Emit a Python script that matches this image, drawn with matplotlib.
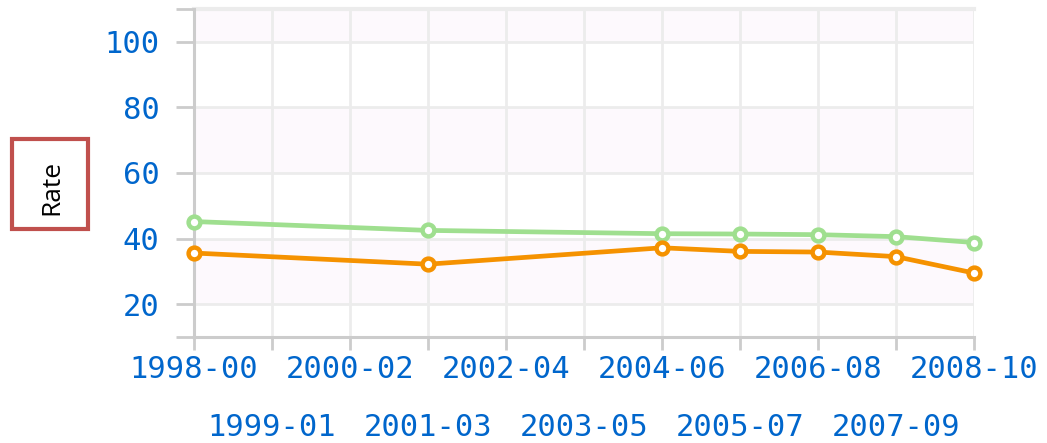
import matplotlib
matplotlib.use("Agg")
import matplotlib.pyplot as plt
from matplotlib.patches import Rectangle
import numpy as np

# categorias do eixo x (anos escolares)
periodos = ["1998-00", "1999-01", "2000-02", "2001-03", "2002-04", "2003-05",
            "2004-06", "2005-07", "2006-08", "2007-09", "2008-10"]

# periodos com dados
periodos_dados = ["1998-00", "2001-03", "2004-06", "2005-07", "2006-08", "2007-09", "2008-10"]
serie_verde = [45.2, 42.5, 41.5, 41.4, 41.2, 40.6, 38.8]
serie_laranja = [35.6, 32.2, 37.2, 36.1, 35.9, 34.5, 29.5]

y_ticks = [20, 40, 60, 80, 100]
y_min, y_max = 10, 110

azul = "#0066cc"
cinza_eixo = "#cccccc"
cinza_grade = "#ececec"

fig = plt.figure(figsize=(10.47, 4.43), dpi=100)
ax = fig.add_axes([194 / 1047, 1 - 337 / 443, 780 / 1047, 328 / 443])

ax.set_xlim(0, len(periodos) - 1)
ax.set_ylim(y_min, y_max)

# faixas alternadas no fundo
for inicio in range(20, 120, 40):
    ax.axhspan(inicio, min(inicio + 20, y_max), color="#fdf9fd", zorder=0, lw=0)

# grade
ax.set_xticks(range(len(periodos)))
ax.set_yticks(y_ticks)
ax.set_yticks([y_min, y_max], minor=True)
ax.grid(True, color=cinza_grade, lw=2, zorder=1)
ax.axhline(y_max, color=cinza_grade, lw=3, zorder=1, clip_on=False)

# linhas
x_dados = [periodos.index(p) for p in periodos_dados]
ax.plot(x_dados, serie_verde, color="#9fdf8f", lw=3.4, marker="o", ms=8.5,
        mfc="white", mew=3.2, zorder=3, clip_on=False)
ax.plot(x_dados, serie_laranja, color="#f59200", lw=3.4, marker="o", ms=8.5,
        mfc="white", mew=3.2, zorder=4, clip_on=False)

# eixos
for lado in ["top", "right"]:
    ax.spines[lado].set_visible(False)
ax.spines["left"].set_color(cinza_eixo)
ax.spines["left"].set_linewidth(2.2)
ax.spines["bottom"].set_color(cinza_eixo)
ax.spines["bottom"].set_linewidth(2.2)

fonte = dict(family="DejaVu Sans Mono", size=22)
ax.set_xticklabels(periodos, color=azul, **fonte)
ax.set_yticklabels([str(v) for v in y_ticks], color=azul, **fonte)
ax.tick_params(axis="x", which="major", length=9, width=2, color=cinza_eixo, pad=4)
ax.tick_params(axis="y", which="both", length=13, width=2, color=cinza_eixo, pad=12)
for i, tick in enumerate(ax.xaxis.get_major_ticks()):
    if i % 2 == 1:
        tick.set_pad(46)

# rotulo do eixo y em caixa
fig.patches.append(Rectangle((12 / 1047, 1 - 229 / 443), 76 / 1047, 90 / 443,
                             transform=fig.transFigure, fill=False,
                             edgecolor="#c0504d", lw=3))
fig.text(52 / 1047, 1 - 187 / 443, "Rate", rotation=90, ha="center", va="center",
         fontsize=19, family="Open Sans", color="black")

fig.savefig("out.png", dpi=100)
